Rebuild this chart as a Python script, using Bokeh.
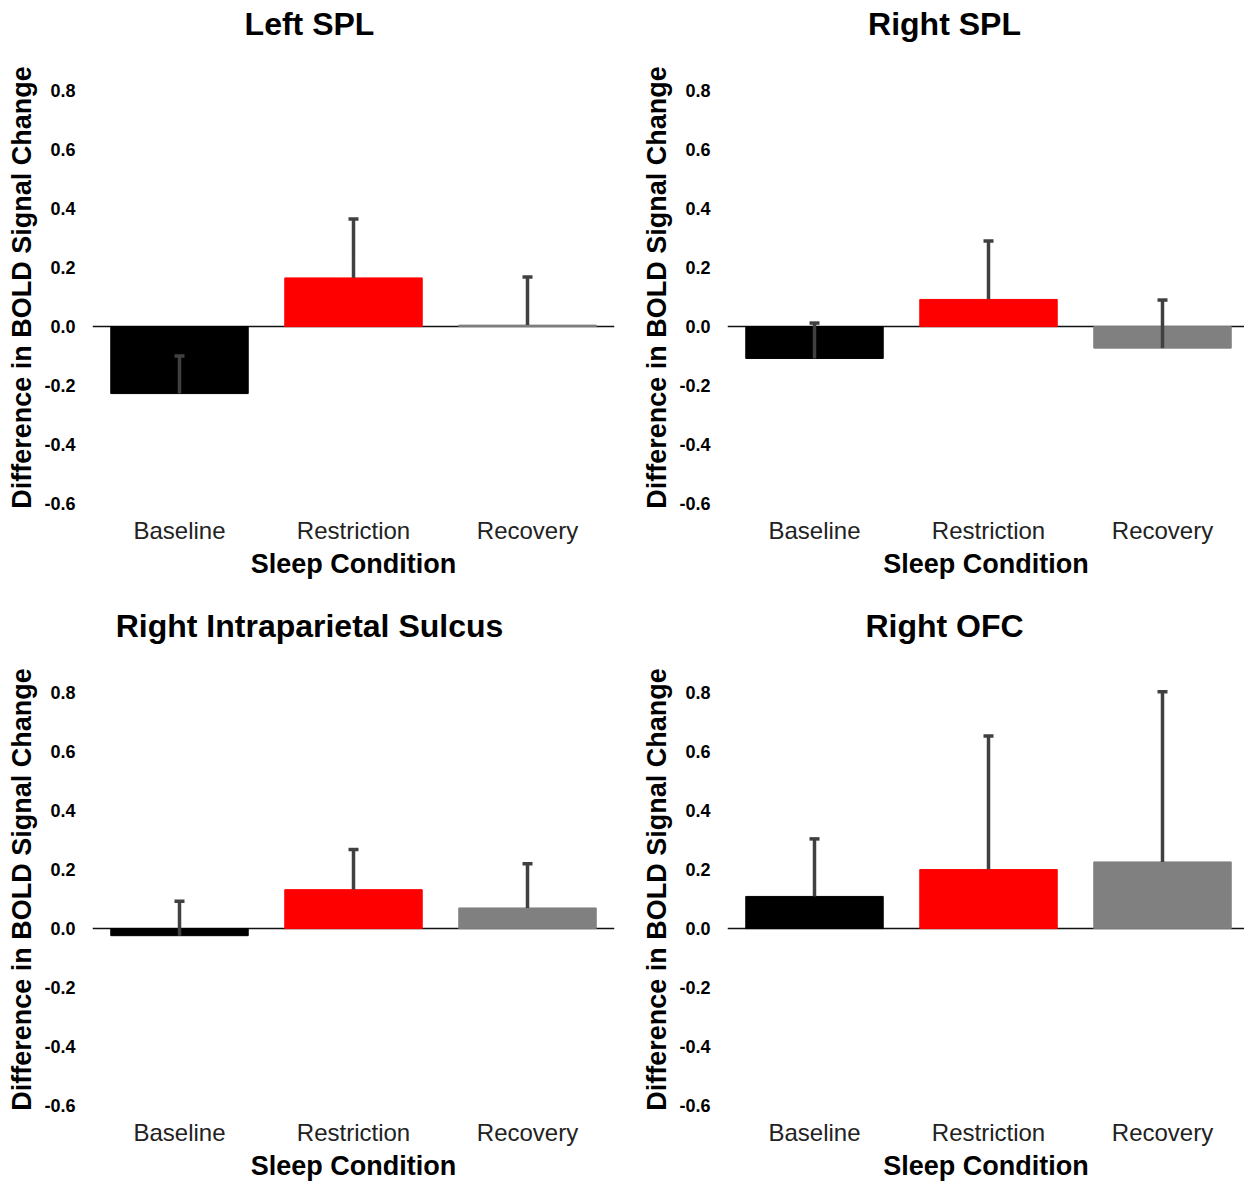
from bokeh.plotting import figure
from bokeh.models import ColumnDataSource, Whisker, TeeHead, Span, FixedTicker, Range1d
from bokeh.layouts import gridplot
from bokeh.core.properties import value
from bokeh.embed import file_html
from bokeh.resources import INLINE

categories = ["Baseline", "Restriction", "Recovery"]
colors = ["#000000", "#FF0000", "#808080"]

titles = ["Left SPL", "Right SPL", "Right Intraparietal Sulcus", "Right OFC"]

left_spl_mean = [-0.227, 0.165, 0.005]
left_spl_err = [0.127, 0.200, 0.163]

right_spl_mean = [-0.108, 0.092, -0.073]
right_spl_err = [0.120, 0.198, 0.163]

right_ips_mean = [-0.024, 0.132, 0.070]
right_ips_err = [0.117, 0.136, 0.150]

right_ofc_mean = [0.109, 0.200, 0.226]
right_ofc_err = [0.195, 0.453, 0.577]

y_ticks = [-0.6, -0.4, -0.2, 0.0, 0.2, 0.4, 0.6, 0.8]

FONT = "Liberation Sans"
W = 622
STRIP_H = 62


def borders(is_right):
    return (105, 0) if is_right else (92, 8)


def make_title_strip(title, is_right):
    bl, br = borders(is_right)
    p = figure(width=W, height=STRIP_H, output_backend="svg", toolbar_location=None,
               x_range=Range1d(bl, W - br), y_range=Range1d(STRIP_H, 0),
               min_border_left=bl, min_border_right=br, min_border_top=0, min_border_bottom=0)
    p.axis.visible = False
    p.grid.visible = False
    p.outline_line_color = None
    p.background_fill_color = "white"
    p.border_fill_color = "white"
    cx = 322 if is_right else 309
    p.text(x=[cx], y=[23], text=[title], text_font=value(FONT), text_font_size="32px",
           text_font_style="bold", text_color="black", text_align="center",
           text_baseline="middle")
    return p


def make_panel(means, errs, is_right):
    height = 540
    bl, br = borders(is_right)
    x_end = -0.5 + (W - bl - br) / 174.0
    p = figure(width=W, height=height, output_backend="svg", toolbar_location=None,
               x_range=Range1d(-0.5, x_end), y_range=Range1d(-0.63, 0.895),
               min_border_left=bl, min_border_right=br,
               min_border_top=0, min_border_bottom=height - 450)
    p.outline_line_color = None
    p.grid.visible = False
    p.background_fill_color = "white"
    p.border_fill_color = "white"

    xs = list(range(len(categories)))
    src = ColumnDataSource(dict(
        x=xs, top=means, color=colors,
        lo=means, hi=[m + e for m, e in zip(means, errs)],
    ))
    p.vbar(x="x", top="top", bottom=0, width=0.79, color="color", source=src)

    zero = Span(location=0, dimension="width", line_color="#111111", line_width=1.5,
                level="underlay")
    p.add_layout(zero)

    w = Whisker(source=src, base="x", lower="lo", upper="hi",
                line_color="#404040", line_width=3.5,
                upper_head=TeeHead(size=10, line_color="#404040", line_width=3.5),
                lower_head=None, level="overlay")
    p.add_layout(w)

    # y axis
    p.yaxis.ticker = FixedTicker(ticks=y_ticks)
    p.yaxis.major_label_overrides = {t: f"{t:.1f}" for t in y_ticks}
    p.yaxis.axis_line_color = None
    p.yaxis.major_tick_line_color = None
    p.yaxis.minor_tick_line_color = None
    p.yaxis.major_tick_out = 0
    p.yaxis.major_tick_in = 0
    p.yaxis.major_label_standoff = 17
    p.yaxis.major_label_text_font = FONT
    p.yaxis.major_label_text_font_size = "18px"
    p.yaxis.major_label_text_font_style = "bold"
    p.yaxis.major_label_text_color = "black"
    p.yaxis.axis_label = "Difference in BOLD Signal Change"
    p.yaxis.axis_label_text_font = FONT
    p.yaxis.axis_label_text_font_size = "27px"
    p.yaxis.axis_label_text_font_style = "bold"
    p.yaxis.axis_label_text_color = "black"
    p.yaxis.axis_label_standoff = 4

    # x axis
    p.xaxis.ticker = FixedTicker(ticks=xs)
    p.xaxis.major_label_overrides = {i: c for i, c in enumerate(categories)}
    p.xaxis.axis_line_color = None
    p.xaxis.major_tick_line_color = None
    p.xaxis.minor_tick_line_color = None
    p.xaxis.major_tick_out = 0
    p.xaxis.major_tick_in = 0
    p.xaxis.major_label_standoff = 4
    p.xaxis.major_label_text_font = FONT
    p.xaxis.major_label_text_font_size = "24px"
    p.xaxis.major_label_text_color = "#222222"
    p.xaxis.axis_label = "Sleep Condition"
    p.xaxis.axis_label_text_font = FONT
    p.xaxis.axis_label_text_font_size = "27px"
    p.xaxis.axis_label_text_font_style = "bold"
    p.xaxis.axis_label_text_color = "black"
    p.xaxis.axis_label_standoff = 2
    return p


t1 = make_title_strip(titles[0], False)
t2 = make_title_strip(titles[1], True)
t3 = make_title_strip(titles[2], False)
t4 = make_title_strip(titles[3], True)

p1 = make_panel(left_spl_mean, left_spl_err, False)
p2 = make_panel(right_spl_mean, right_spl_err, True)
p3 = make_panel(right_ips_mean, right_ips_err, False)
p4 = make_panel(right_ofc_mean, right_ofc_err, True)

grid = gridplot([[t1, t2], [p1, p2], [t3, t4], [p3, p4]], toolbar_location=None)

open("out.html", "w").write(file_html(grid, INLINE))
